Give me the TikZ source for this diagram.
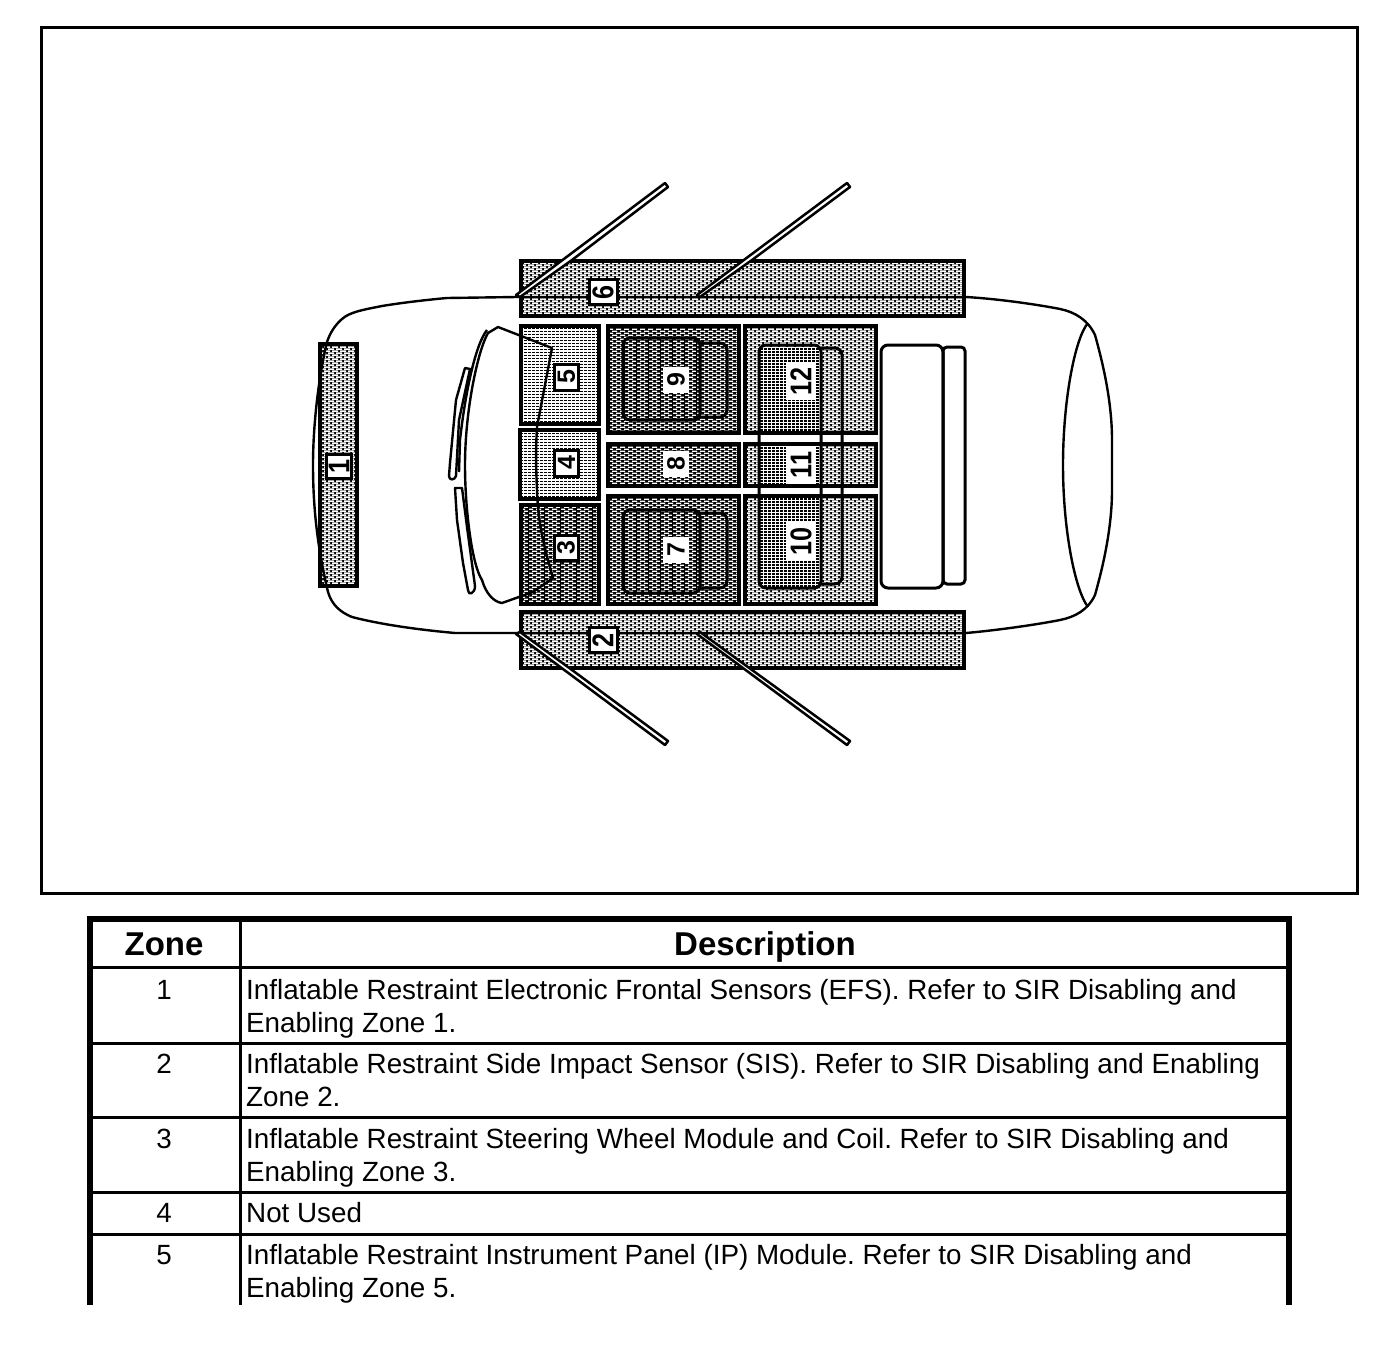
\documentclass[tikz,border=0pt]{standalone}
\usepackage{fontspec}
\usepackage{graphicx}
\setmainfont{Liberation Sans}
\usetikzlibrary{patterns}
\pgfdeclarepatternformonly{dashA}{\pgfqpoint{-1pt}{-1pt}}{\pgfqpoint{9pt}{5pt}}{\pgfqpoint{8pt}{4pt}}{%
  \pgfpathrectangle{\pgfqpoint{0pt}{0pt}}{\pgfqpoint{5pt}{1.3pt}}%
  \pgfpathrectangle{\pgfqpoint{4pt}{2pt}}{\pgfqpoint{4pt}{1.3pt}}%
  \pgfpathrectangle{\pgfqpoint{0pt}{2pt}}{\pgfqpoint{1pt}{1.3pt}}%
  \pgfusepath{fill}}
\pgfdeclarepatternformonly{dashB}{\pgfqpoint{-1pt}{-1pt}}{\pgfqpoint{9pt}{5pt}}{\pgfqpoint{8pt}{4pt}}{%
  \pgfpathrectangle{\pgfqpoint{0pt}{0pt}}{\pgfqpoint{6pt}{1.7pt}}%
  \pgfpathrectangle{\pgfqpoint{4pt}{2pt}}{\pgfqpoint{4pt}{1.7pt}}%
  \pgfpathrectangle{\pgfqpoint{0pt}{2pt}}{\pgfqpoint{2pt}{1.7pt}}%
  \pgfusepath{fill}}
\pgfdeclarepatternformonly{dashC}{\pgfqpoint{-1pt}{-1pt}}{\pgfqpoint{5pt}{4pt}}{\pgfqpoint{4pt}{3pt}}{%
  \pgfpathrectangle{\pgfqpoint{0pt}{0pt}}{\pgfqpoint{2.6pt}{1.3pt}}%
  \pgfusepath{fill}}
\pgfdeclarepatternformonly{dashD}{\pgfqpoint{-1pt}{-1pt}}{\pgfqpoint{5pt}{4pt}}{\pgfqpoint{4pt}{3pt}}{%
  \pgfpathrectangle{\pgfqpoint{0pt}{0pt}}{\pgfqpoint{3pt}{1.5pt}}%
  \pgfusepath{fill}}
\pgfdeclarepatternformonly{vstripe}{\pgfqpoint{-1pt}{-1pt}}{\pgfqpoint{17pt}{3pt}}{\pgfqpoint{16pt}{2pt}}{%
  \pgfpathrectangle{\pgfqpoint{0pt}{0pt}}{\pgfqpoint{1.2pt}{2pt}}%
  \pgfusepath{fill}}
\pgfdeclarepatternformonly{vfine}{\pgfqpoint{-1pt}{-1pt}}{\pgfqpoint{13pt}{3pt}}{\pgfqpoint{12pt}{2pt}}{%
  \pgfpathrectangle{\pgfqpoint{0pt}{0pt}}{\pgfqpoint{0.6pt}{2pt}}%
  \pgfusepath{fill}}
\newcommand{\zdigit}[1]{\scalebox{0.84}[1]{#1}}
\tikzset{
  zdark/.style={fill=black,postaction={pattern=dashA,pattern color=white}},
  zmid/.style={fill=black,postaction={pattern=dashB,pattern color=white}},
  zlight/.style={fill=white,postaction={pattern=dashC,pattern color=black}},
  zseat/.style={fill=white,postaction={pattern=dashD,pattern color=black}},
  zedge/.style={draw=black,line width=4pt},
  vs/.style={pattern=vstripe,pattern color=black},
  vf/.style={pattern=vfine,pattern color=black},
  seat/.style={draw=black,line width=3pt,rounded corners=7pt},
  body/.style={draw=black,line width=2.4pt,line join=round},
  door/.style={draw=black,fill=white,line width=2.5pt,line join=round},
  zlabel/.style={draw=black,fill=white,line width=3pt,rotate=90,inner sep=0pt,font=\fontsize{30}{30}\selectfont\bfseries},
  zsmall/.style={zlabel,font=\fontsize{25}{25}\selectfont\bfseries},
  hdr/.style={inner sep=0pt,anchor=base,font=\fontsize{33}{33}\selectfont\bfseries},
  num/.style={inner sep=0pt,anchor=base,font=\fontsize{27.8}{33}\selectfont},
  txt/.style={inner sep=0pt,anchor=base west,font=\fontsize{27.8}{33}\selectfont\frenchspacing},
  thick edge/.style={line width=6pt,draw=black},
  rule/.style={line width=3pt,draw=black}
}
\begin{document}
\begin{tikzpicture}[x=1pt,y=-1pt]
\useasboundingbox (0,0) rectangle (1392,1346);
\draw[black,line width=3pt] (41,27.5) rectangle (1357.5,893);
% zones
\path[zmid] (320,344) rectangle (357,586);
\path[zmid] (521,261) rectangle (964,316);
\path[zmid] (521,612) rectangle (964,668);
\path[zlight] (521,326) rectangle (599,424);
\path[zlight] (520,430) rectangle (599,499);
\path[zdark] (521,505) rectangle (599,604);
\path[vs] (521,505) rectangle (599,604);
\path[zdark] (608,326) rectangle (739,433);
\path[zdark] (608,444) rectangle (739,486);
\path[zdark] (608,496) rectangle (739,604);
\path[vf] (623,338) rectangle (700,420);
\path[vf] (623,510) rectangle (700,593);
\path[zmid] (745,326) rectangle (876,433);
\path[zmid] (745,444) rectangle (876,486);
\path[zmid] (745,496) rectangle (876,604);
\path[zseat] (760,347) rectangle (820,433);
\path[zseat] (760,444) rectangle (820,486);
\path[zseat] (760,496) rectangle (820,587);
\draw[zedge] (320,344) rectangle (357,586);
\draw[zedge] (521,261) rectangle (964,316);
\draw[zedge] (521,612) rectangle (964,668);
\draw[zedge] (521,326) rectangle (599,424);
\draw[zedge] (520,430) rectangle (599,499);
\draw[zedge] (521,505) rectangle (599,604);
\draw[zedge] (608,326) rectangle (739,433);
\draw[zedge] (608,444) rectangle (739,486);
\draw[zedge] (608,496) rectangle (739,604);
\draw[zedge] (745,326) rectangle (876,433);
\draw[zedge] (745,444) rectangle (876,486);
\draw[zedge] (745,496) rectangle (876,604);
% car body
\draw[body] (517,297) -- (447,298) .. controls (425,300) and (400,303) .. (382,306) .. controls (362,310) and (350,312) .. (342,319) .. controls (335,325) and (330,333) .. (327,342) .. controls (320,370) and (313,420) .. (313,465) .. controls (313,510) and (318,550) .. (328,592) .. controls (332,605) and (340,612) .. (352,617) .. controls (375,623) and (410,629) .. (455,633) -- (517,633);
\draw[body] (517,297) -- (966,297) .. controls (1000,299) and (1040,305) .. (1060,309) .. controls (1075,312) and (1088,320) .. (1095,335) .. controls (1102,360) and (1112,400) .. (1112,440) -- (1112,490) .. controls (1112,530) and (1102,570) .. (1095,595) .. controls (1088,610) and (1075,617) .. (1060,620) .. controls (1040,624) and (1000,630) .. (966,633) -- (517,633);
\draw[body] (1088,323) .. controls (1075,338) and (1063,400) .. (1063,465) .. controls (1063,530) and (1075,590) .. (1088,607);
% seats
\draw[seat] (700,343) -- (727,343) -- (727,417) -- (700,417);
\draw[seat] (623,338) rectangle (700,420);
\draw[seat] (700,513) -- (727,513) -- (727,588) -- (700,588);
\draw[seat] (623,510) rectangle (700,593);
\draw[seat] (821,348) -- (842,348) -- (842,584) -- (821,584);
\draw[seat] (759,345) rectangle (821,588);
\draw[seat] (881,345) rectangle (943,588);
\draw[seat,rounded corners=4pt] (943,347) rectangle (965,584);
% windshield
\draw[body] (552,348) -- (498,327) -- (488,333) .. controls (478,350) and (465,410) .. (465,465) .. controls (465,510) and (472,565) .. (482,580) .. controls (486,594) and (494,602) .. (502,603) -- (533,592) -- (553,578) .. controls (545,550) and (538,525) .. (537,490) .. controls (535,450) and (537,430) .. (537,427) -- cycle;
\draw[body] (487,330) .. controls (475,345) and (465,395) .. (460,440) -- (459,472);
% wipers
\draw[body] (465,368) -- (470,369) -- (459,420) -- (456,476) .. controls (455,480) and (449,481) .. (449,476) -- (450,463) -- (456,400) -- cycle;
\draw[body] (455,488) -- (462,488) -- (467,527) -- (475,586) .. controls (475,594) and (468,596) .. (468,590) -- (463,563) -- (457,520) -- cycle;
% doors
\draw[door] (516,295) -- (665,183) -- (668,187) -- (572,260) -- (520,297) -- cycle;
\draw[door] (697,295) -- (847,183) -- (850,187) -- (752,260) -- (700,297) -- cycle;
\draw[door] (516,634) -- (665,745) -- (668,741) -- (572,670) -- (520,632) -- cycle;
\draw[door] (697,634) -- (847,745) -- (850,741) -- (752,670) -- (700,632) -- cycle;
% labels
\node[zlabel,minimum width=24pt,minimum height=25pt] (z1) at (339,466) {\zdigit{1}};
\node[zlabel,minimum width=25pt,minimum height=28pt] (z2) at (603,640) {\zdigit{2}};
\node[zsmall,minimum width=25pt,minimum height=24pt] (z3) at (566,548) {3};
\node[zsmall,minimum width=26pt,minimum height=24pt] (z4) at (566.5,463) {4};
\node[zsmall,minimum width=26pt,minimum height=24pt] (z5) at (566.5,377) {5};
\node[zlabel,minimum width=25pt,minimum height=28pt] (z6) at (603,292) {\zdigit{6}};
\node[zsmall,draw=none,minimum width=26pt,minimum height=26pt] (z7) at (676,550) {7};
\node[zsmall,draw=none,minimum width=26pt,minimum height=26pt] (z8) at (676,464) {8};
\node[zsmall,draw=none,minimum width=26pt,minimum height=26pt] (z9) at (676,380) {9};
\node[zlabel,draw=none,minimum width=38pt,minimum height=30pt] (z10) at (801,541) {\zdigit{10}};
\node[zlabel,draw=none,minimum width=38pt,minimum height=30pt] (z11) at (801,465) {\zdigit{11}};
\node[zlabel,draw=none,minimum width=38pt,minimum height=30pt] (z12) at (801,381) {\zdigit{12}};
% table
\draw[thick edge] (90,1305) -- (90,919) -- (1289,919) -- (1289,1305);
\draw[rule] (240,919) -- (240,1305);
\draw[rule] (90,967.5) -- (1289,967.5);
\draw[rule] (90,1043) -- (1289,1043);
\draw[rule] (90,1117) -- (1289,1117);
\draw[rule] (90,1192) -- (1289,1192);
\draw[rule] (90,1234) -- (1289,1234);
\node[hdr] (h1) at (164,955) {Zone};
\node[hdr] (h2) at (765,955) {Description};
\node[num] (n1) at (164,999) {1};
\node[num] (n2) at (164,1073) {2};
\node[num] (n3) at (164,1148) {3};
\node[num] (n4) at (164,1222) {4};
\node[num] (n5) at (164,1264) {5};
\node[txt] (t1a) at (246,999) {Inflatable Restraint Electronic Frontal Sensors (EFS). Refer to SIR Disabling and};
\node[txt] (t1b) at (246,1032) {Enabling Zone 1.};
\node[txt] (t2a) at (246,1073) {Inflatable Restraint Side Impact Sensor (SIS). Refer to SIR Disabling and Enabling};
\node[txt] (t2b) at (246,1106) {Zone 2.};
\node[txt] (t3a) at (246,1148) {Inflatable Restraint Steering Wheel Module and Coil. Refer to SIR Disabling and};
\node[txt] (t3b) at (246,1181) {Enabling Zone 3.};
\node[txt] (t4a) at (246,1222) {Not Used};
\node[txt] (t5a) at (246,1264) {Inflatable Restraint Instrument Panel (IP) Module. Refer to SIR Disabling and};
\node[txt] (t5b) at (246,1297) {Enabling Zone 5.};
\end{tikzpicture}
\end{document}
